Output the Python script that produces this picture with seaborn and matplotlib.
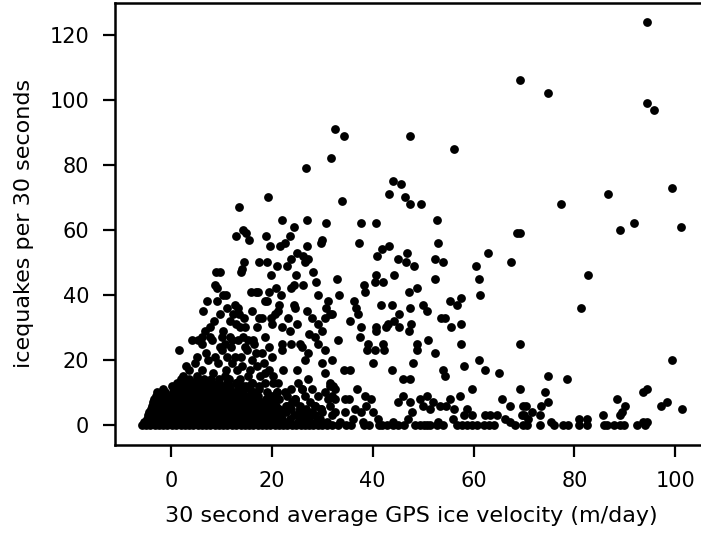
import matplotlib
matplotlib.use("Agg")
import matplotlib.pyplot as plt
import seaborn as sns
import pandas as pd

# ---------------- data ----------------
# Dense cluster near the origin: icequake count level and velocities on that level
blob_counts = [0, 1, 2, 3, 4, 5, 6, 7, 8, 9, 10, 11, 12, 13, 14]
blob_velocities = [
    [-5.8, -4.9, -4.1, -3.2, -2.4, -1.5, -0.7, 0.2, 1.0, 1.9, 2.7, 3.6, 4.4, 5.3, 6.1, 7.0, 7.8, 8.7,
     9.5, 10.4, 11.2, 12.1, 12.9, 13.8, 14.6, 15.5, 16.3, 17.2, 18.0, 18.9, 19.7, 20.6, 21.4, 22.3,
     23.1, 24.0, 24.8, 25.7, 26.5, 27.4, 28.2, 29.1, 30.0, 31.0],
    [-5.3, -4.0, -2.8, -1.6, -0.3, 0.9, 2.2, 3.4, 4.7, 5.9, 7.2, 8.4, 9.7, 10.9, 12.2, 13.4, 14.7,
     15.9, 17.2, 18.4, 19.7, 20.9, 22.2, 23.6, 25.1, 26.8, 28.7, 31.0],
    [-4.8, -3.5, -2.1, -0.9, 0.4, 1.6, 2.9, 4.1, 5.4, 6.6, 7.9, 9.1, 10.4, 11.6, 12.9, 14.1, 15.4,
     16.6, 17.9, 19.2, 20.6, 22.1, 23.7, 25.5, 27.4, 29.6],
    [-4.5, -3.1, -1.8, -0.5, 0.8, 2.1, 3.3, 4.6, 5.8, 7.1, 8.3, 9.6, 10.8, 12.1, 13.3, 14.6, 15.9,
     17.3, 18.8, 20.4, 21.9, 24.3, 26.2, 27.0, 28.5, 32.0],
    [-4.3, -2.9, -1.5, -0.2, 1.1, 2.4, 3.7, 5.0, 6.3, 7.6, 8.9, 10.2, 11.5, 12.8, 14.1, 15.5, 16.9,
     18.5, 20.1, 22.8, 25.4, 27.9, 30.0],
    [-4.0, -2.6, -1.2, 0.2, 1.5, 2.8, 4.1, 5.4, 6.7, 8.0, 9.3, 10.6, 11.9, 13.2, 14.6, 16.1, 17.7,
     19.6, 21.5, 23.9, 25.5, 26.8, 29.8],
    [-3.8, -2.3, -0.9, 0.5, 1.8, 3.1, 4.4, 5.7, 7.0, 8.3, 9.6, 10.9, 12.3, 13.8, 15.2, 16.8, 18.9,
     20.8, 22.9, 23.0, 25.6, 28.5],
    [-3.5, -2.0, -0.6, 0.8, 2.1, 3.4, 4.7, 6.0, 7.3, 8.6, 9.9, 11.3, 12.7, 14.2, 15.9, 17.8, 19.9,
     20.0, 24.1, 24.5, 27.5],
    [-3.3, -1.8, -0.3, 1.1, 2.4, 3.7, 5.0, 6.3, 7.6, 8.9, 10.2, 11.6, 13.1, 14.8, 16.7, 18.8, 21.0,
     21.5, 24.5],
    [-3.0, -1.5, 0.0, 1.4, 2.7, 4.0, 5.3, 6.6, 7.9, 9.2, 10.6, 12.1, 13.6, 15.4, 17.3, 20.1, 23.0,
     32.0],
    [-2.7, -1.2, 0.4, 1.7, 3.0, 4.3, 5.6, 6.9, 8.2, 9.6, 11.1, 12.6, 14.3, 16.2, 19.0, 21.0, 30.5],
    [-1.5, 0.6, 2.0, 3.3, 4.6, 5.9, 7.2, 8.6, 10.1, 11.7, 13.4, 15.6, 26.0],
    [0.3, 1.8, 3.2, 4.5, 5.8, 7.2, 8.6, 10.0, 11.5, 13.2, 14.9, 17.5],
    [1.2, 2.6, 4.0, 5.3, 6.7, 8.1, 9.6, 11.2, 12.9, 16.0],
    [2.0, 3.6, 5.1, 6.5, 8.0, 9.6, 11.3, 13.6],
]

# Points on the zero line beyond the dense cluster
zero_row_velocity = [31.9, 33.2, 34.7, 35.8, 38.2, 39.2, 41.2, 41.8, 42.8, 44.1, 45.1, 46.2, 48.4,
                     49.4, 50.1, 50.7, 51.4, 52.7, 54.0, 56.7, 57.7, 58.7, 59.7, 60.7, 62.1, 63.0,
                     64.0, 68.3, 69.9, 70.6, 73.1, 75.9, 77.8, 78.8, 81.0, 82.5, 85.8, 86.4, 87.8,
                     89.1, 89.8, 92.4, 94.0]

# Scattered points above the dense cluster (low velocities)
low_points = [
    (1.5, 23), (4.8, 19), (4.1, 26), (6.1, 25), (8.1, 26), (10.1, 23), (7.4, 20), (9.4, 19),
    (6.1, 17), (8.4, 16), (10.7, 15), (5.1, 15), (3.8, 13), (7.7, 12), (2.4, 15), (3.6, 17),
    (5.2, 21), (7.0, 22), (8.8, 21), (9.7, 24), (3.0, 18),
    (11.5, 14), (12.8, 13), (14.2, 12), (16.0, 13), (17.5, 11), (11.0, 17), (12.2, 19), (14.0, 18),
    (15.7, 17), (17.6, 15), (11.2, 21), (13.8, 21), (15.1, 23), (16.8, 22), (12.0, 24), (13.3, 26),
    (10.8, 25), (16.5, 25), (18.5, 19), (19.5, 17), (20.3, 15), (19.4, 24),
    (22.3, 17), (24.9, 17), (26.6, 20), (29.9, 19), (25.1, 13), (27.2, 14), (27.9, 11), (21.3, 13),
    (20.2, 13), (18.7, 13), (31.5, 12), (23.9, 11), (18.7, 16), (17.0, 18), (22.0, 23), (23.9, 25),
    (25.9, 24), (27.2, 22), (29.2, 25), (30.6, 23), (20.0, 21), (18.0, 22), (14.7, 24), (12.7, 21),
    (16.0, 20), (13.0, 17), (15.3, 15), (30.6, 16), (31.9, 20), (22.6, 10), (26.6, 9), (29.2, 9),
    (31.2, 8), (21.0, 10), (24.5, 8), (26.0, 11), (28.5, 6), (20.0, 7), (25.5, 5), (29.8, 5),
]

# Mid-range points (velocity roughly 5 to 40)
mid_points = [
    (13.4, 67), (14.3, 60), (14.9, 59), (12.8, 58), (15.5, 57), (14.5, 50), (14.0, 48), (13.8, 47),
    (17.4, 50), (9.0, 47), (9.8, 47), (8.7, 43), (9.2, 42), (10.3, 40), (10.9, 40), (15.9, 41),
    (16.9, 41), (7.1, 38), (9.2, 38), (6.4, 35), (11.2, 36), (12.7, 37), (13.2, 36), (9.7, 34),
    (12.4, 34), (13.5, 34), (16.1, 35), (14.5, 33), (8.5, 32), (11.8, 32), (12.9, 31), (17.5, 33),
    (7.7, 30), (6.7, 29), (10.3, 29), (13.7, 30), (14.7, 30), (17.0, 30), (6.1, 27), (7.7, 27),
    (10.1, 27), (11.7, 27), (12.2, 26), (14.3, 27), (15.3, 26), (5.4, 26), (16.3, 26), (18.7, 38),
    (22.1, 63), (24.3, 61), (27.0, 63), (30.8, 62), (37.7, 62), (18.8, 58), (19.7, 55), (21.6, 55),
    (22.7, 56), (23.7, 58), (27.0, 55), (29.8, 56), (30.0, 57), (37.3, 56), (24.9, 53), (26.2, 52),
    (27.2, 51), (23.8, 51), (19.0, 50), (21.0, 49), (23.1, 49), (26.6, 50), (28.2, 47), (19.8, 46),
    (24.7, 46), (28.7, 44), (33.0, 45), (38.3, 43), (38.4, 41), (24.3, 43), (23.8, 42), (26.1, 43),
    (17.2, 41), (19.4, 41), (20.8, 42), (21.8, 40), (29.2, 40), (33.3, 40), (19.0, 38), (21.4, 37),
    (24.3, 37), (31.1, 38), (36.2, 38), (36.6, 36), (37.0, 34), (18.0, 33), (19.8, 33), (21.2, 35),
    (20.6, 34), (24.5, 36), (27.0, 35), (30.7, 36), (31.5, 34), (23.3, 33), (27.9, 33), (30.6, 33),
    (35.5, 32), (20.0, 31), (22.0, 30), (24.9, 31), (23.6, 29), (29.2, 31), (29.9, 29), (37.7, 30),
    (27.4, 28), (28.6, 27), (37.5, 27), (18.7, 27), (22.0, 25), (25.6, 25), (33.2, 26), (31.9, 34),
    (34.3, 17), (35.6, 17), (31.5, 13), (32.1, 12), (32.5, 11), (36.8, 11), (34.5, 8), (35.4, 8),
    (32.5, 8), (38.5, 9), (39.6, 8), (38.7, 6), (31.5, 6), (32.5, 4), (34.5, 4), (36.5, 5),
    (37.7, 4), (40.0, 4), (33.5, 1), (36.0, 2), (38.0, 1), (38.8, 23), (40.5, 23), (42.3, 23),
]

# High-velocity and high-count points
high_points = [
    (34.3, 89), (47.5, 89), (56.2, 85), (44.1, 75), (45.6, 74), (43.3, 71), (46.4, 70), (47.4, 68),
    (49.6, 68), (34.0, 69), (32.6, 91), (31.7, 82), (26.8, 79), (19.3, 70),
    (40.7, 62), (52.7, 63), (68.7, 59), (53.0, 56), (43.3, 55), (41.9, 54), (40.8, 52), (46.8, 53),
    (45.0, 51), (46.6, 50), (48.2, 49), (52.3, 51), (53.9, 50), (62.8, 53), (60.5, 49), (67.4, 50),
    (40.7, 46), (40.5, 44), (42.0, 44), (44.2, 46), (52.3, 45), (61.0, 45), (48.7, 42), (47.3, 41),
    (61.3, 40), (57.5, 39), (55.4, 38), (56.8, 37), (41.7, 37), (43.9, 37), (47.4, 36), (49.9, 37),
    (50.7, 35), (45.3, 34), (44.2, 32), (43.0, 31), (42.7, 30), (40.7, 30), (40.7, 29), (45.3, 30),
    (47.6, 31), (47.3, 29), (53.6, 33), (54.4, 33), (55.5, 30), (57.5, 31), (50.9, 26), (57.5, 25),
    (42.1, 25), (39.1, 25), (48.7, 23), (48.8, 25), (52.4, 22), (40.0, 19), (43.8, 17), (46.0, 14),
    (47.4, 14), (47.9, 19), (53.9, 17), (54.4, 15), (58.2, 18), (61.0, 20), (62.3, 17), (65.1, 16),
    (59.6, 11), (45.1, 7), (46.0, 9), (47.4, 7), (47.8, 4), (49.4, 8), (50.0, 6), (50.7, 9),
    (51.4, 5), (52.0, 7), (53.4, 6), (54.6, 6), (55.4, 8), (57.3, 9), (56.2, 5), (58.8, 5),
    (59.7, 3), (58.1, 3), (62.3, 3), (63.2, 3), (64.6, 3), (65.7, 8), (67.3, 6), (66.3, 2),
    (67.3, 1), (69.9, 6), (69.6, 3), (70.9, 2), (41.0, 2), (44.0, 1), (47.0, 2), (53.0, 1), (56.0, 2),
    (94.4, 124), (69.2, 106), (74.7, 102), (94.4, 99), (95.7, 97), (77.4, 68), (86.6, 71),
    (99.4, 73), (89.1, 60), (91.9, 62), (101.1, 61), (69.2, 59), (82.8, 46), (81.3, 36), (69.2, 25),
    (99.4, 20), (74.7, 15), (78.5, 14), (69.2, 11), (74.2, 10), (94.4, 11), (93.6, 10), (88.4, 8),
    (90.0, 6), (89.4, 4), (74.7, 7), (73.4, 6), (70.4, 6), (71.6, 4), (73.1, 3), (70.0, 3),
    (98.3, 7), (97.2, 6), (101.3, 5), (75.3, 1), (81.0, 2), (82.5, 2), (85.6, 3), (89.1, 3),
    (93.6, 1), (94.4, 1),
]

x_ticks = [0, 20, 40, 60, 80, 100]
y_ticks = [0, 20, 40, 60, 80, 100, 120]
x_label = "30 second average GPS ice velocity (m/day)"
y_label = "icequakes per 30 seconds"

# ---------------- assemble table ----------------
vel, cnt = [], []
for c, row in zip(blob_counts, blob_velocities):
    vel += row
    cnt += [c] * len(row)
vel += zero_row_velocity
cnt += [0] * len(zero_row_velocity)
for group in (low_points, mid_points, high_points):
    vel += [p[0] for p in group]
    cnt += [p[1] for p in group]
df = pd.DataFrame({"velocity": vel, "icequakes": cnt})

# ---------------- plot ----------------
sns.set_style("ticks")
plt.rcParams.update({
    "font.family": ["DejaVu Sans"],
    "text.color": "black", "axes.labelcolor": "black",
    "xtick.color": "black", "ytick.color": "black", "axes.edgecolor": "black",
})

fig = plt.figure(figsize=(7.01, 5.33), dpi=100)
ax = fig.add_axes([115 / 701, 88 / 533, 593 / 701, 442.3 / 533])
sns.scatterplot(data=df, x="velocity", y="icequakes", color="black", s=40,
                linewidth=0, ax=ax, legend=False)
ax.set_xlim(-11.1, 106.5)
ax.set_ylim(-6.15, 129.9)
ax.set_xticks(x_ticks)
ax.set_yticks(y_ticks)
ax.tick_params(axis="both", length=8.5, width=1.6, labelsize=15, pad=10, direction="out")
for s in ax.spines.values():
    s.set_linewidth(1.8)
ax.set_xlabel(x_label, fontsize=16, labelpad=11)
ax.set_ylabel(y_label, fontsize=16, labelpad=11)

fig.savefig("out.png", dpi=100)
